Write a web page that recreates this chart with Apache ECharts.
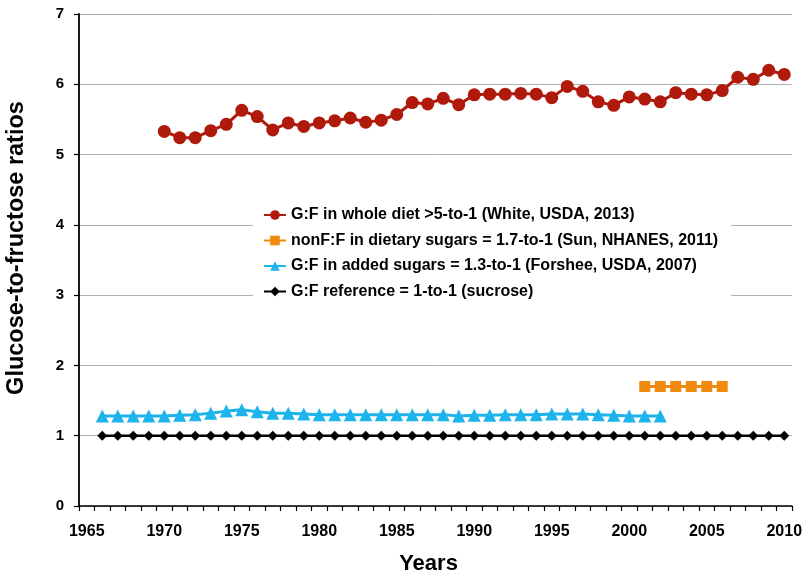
<!DOCTYPE html>
<html>
<head>
<meta charset="utf-8">
<script src="https://cdn.jsdelivr.net/npm/echarts@6/dist/echarts.min.js"></script>
<style>
  html, body { margin: 0; padding: 0; background: #fff; }
  #main { width: 804px; height: 574px; }
</style>
</head>
<body>
<div id="main"></div>
<script>
// data
var years = [];
for (var yr = 1965; yr <= 2010; yr++) { years.push(String(yr)); }

var wholeDietYears = [1970,1971,1972,1973,1974,1975,1976,1977,1978,1979,1980,1981,1982,1983,1984,1985,1986,1987,1988,1989,
  1990,1991,1992,1993,1994,1995,1996,1997,1998,1999,2000,2001,2002,2003,2004,2005,2006,2007,2008,2009,2010];
var wholeDiet = [5.33,5.24,5.24,5.34,5.43,5.63,5.54,5.35,5.45,5.40,5.45,5.48,5.52,5.46,5.49,5.57,5.74,5.72,5.80,5.71,
  5.85,5.86,5.86,5.87,5.86,5.81,5.97,5.90,5.75,5.70,5.82,5.79,5.75,5.88,5.86,5.85,5.91,6.10,6.07,6.20,6.14];

var nonFYears = [2001,2002,2003,2004,2005,2006];
var nonF = [1.7,1.7,1.7,1.7,1.7,1.7];

var addedYears = [1966,1967,1968,1969,1970,1971,1972,1973,1974,1975,1976,1977,1978,1979,1980,1981,1982,1983,1984,
  1985,1986,1987,1988,1989,1990,1991,1992,1993,1994,1995,1996,1997,1998,1999,2000,2001,2002];
var added = [1.28,1.28,1.28,1.28,1.28,1.29,1.30,1.32,1.35,1.37,1.34,1.32,1.32,1.31,1.30,1.30,1.30,1.30,1.30,
  1.30,1.30,1.30,1.30,1.28,1.29,1.29,1.30,1.30,1.30,1.31,1.31,1.31,1.30,1.29,1.28,1.28,1.28];

var refYears = [];
var refVals = [];
for (var y = 1966; y <= 2010; y++) { refYears.push(y); refVals.push(1); }

var seriesNames = [
  'G:F in whole diet >5-to-1 (White, USDA, 2013)',
  'nonF:F in dietary sugars = 1.7-to-1 (Sun, NHANES, 2011)',
  'G:F in added sugars = 1.3-to-1 (Forshee, USDA, 2007)',
  'G:F reference = 1-to-1 (sucrose)'
];

function pairs(xs, ys) {
  return xs.map(function (x, i) { return [String(x), ys[i]]; });
}

var chart = echarts.init(document.getElementById('main'));
var font = 'Liberation Sans, Arial, sans-serif';

var option = {
  backgroundColor: '#fff',
  animation: false,
  grid: { left: 79, right: 12, top: 14, bottom: 68, containLabel: false, outerBoundsMode: 'none' },
  legend: {
    left: 253,
    top: 203,
    orient: 'vertical',
    backgroundColor: '#fff',
    padding: [4, 13, 4, 10],
    itemGap: 9.5,
    itemWidth: 22,
    itemHeight: 12,
    textStyle: { fontFamily: font, fontWeight: 'bold', fontSize: 16, color: '#000' },
    data: seriesNames
  },
  xAxis: {
    type: 'category',
    data: years,
    boundaryGap: true,
    name: 'Years',
    nameLocation: 'middle',
    nameGap: 47,
    nameTextStyle: { fontFamily: font, fontWeight: 'bold', fontSize: 22, color: '#000', padding: [0, 14, 0, 0] },
    axisLine: { show: true, lineStyle: { color: '#000', width: 1.5 } },
    axisTick: { show: true, inside: false, interval: 0, length: 5, lineStyle: { color: '#000', width: 1.2 } },
    axisLabel: {
      interval: 4,
      fontFamily: font, fontWeight: 'bold', fontSize: 16, color: '#000', margin: 18
    },
    splitLine: { show: false }
  },
  yAxis: {
    type: 'value',
    min: 0,
    max: 7,
    interval: 1,
    name: 'Glucose-to-fructose ratios',
    nameLocation: 'middle',
    nameGap: 50,
    nameTextStyle: { fontFamily: font, fontWeight: 'bold', fontSize: 23.5, color: '#000', padding: [0, 0, 0, 24] },
    axisLine: { show: true, lineStyle: { color: '#000', width: 1.8 } },
    axisTick: { show: true, inside: false, length: 5, lineStyle: { color: '#000', width: 1.2 } },
    axisLabel: { fontFamily: font, fontWeight: 'bold', fontSize: 15, color: '#000', margin: 15 },
    splitLine: { show: true, lineStyle: { color: '#b0b0b0', width: 1 } }
  },
  series: [
    {
      name: seriesNames[0],
      type: 'line',
      data: pairs(wholeDietYears, wholeDiet),
      symbol: 'circle',
      symbolSize: 13,
      showAllSymbol: true,
      lineStyle: { color: '#b01a0c', width: 3 },
      itemStyle: { color: '#b01a0c' },
      z: 5
    },
    {
      name: seriesNames[1],
      type: 'line',
      data: pairs(nonFYears, nonF),
      symbol: 'rect',
      symbolSize: 11,
      showAllSymbol: true,
      lineStyle: { color: '#f28a0f', width: 3 },
      itemStyle: { color: '#f28a0f' },
      z: 4
    },
    {
      name: seriesNames[2],
      type: 'line',
      data: pairs(addedYears, added),
      symbol: 'triangle',
      symbolSize: 13,
      showAllSymbol: true,
      lineStyle: { color: '#1cb4ea', width: 3 },
      itemStyle: { color: '#1cb4ea' },
      z: 3
    },
    {
      name: seriesNames[3],
      type: 'line',
      data: pairs(refYears, refVals),
      symbol: 'diamond',
      symbolSize: 10,
      showAllSymbol: true,
      lineStyle: { color: '#000', width: 2.5 },
      itemStyle: { color: '#000' },
      z: 2
    }
  ]
};

chart.setOption(option);
</script>
</body>
</html>
